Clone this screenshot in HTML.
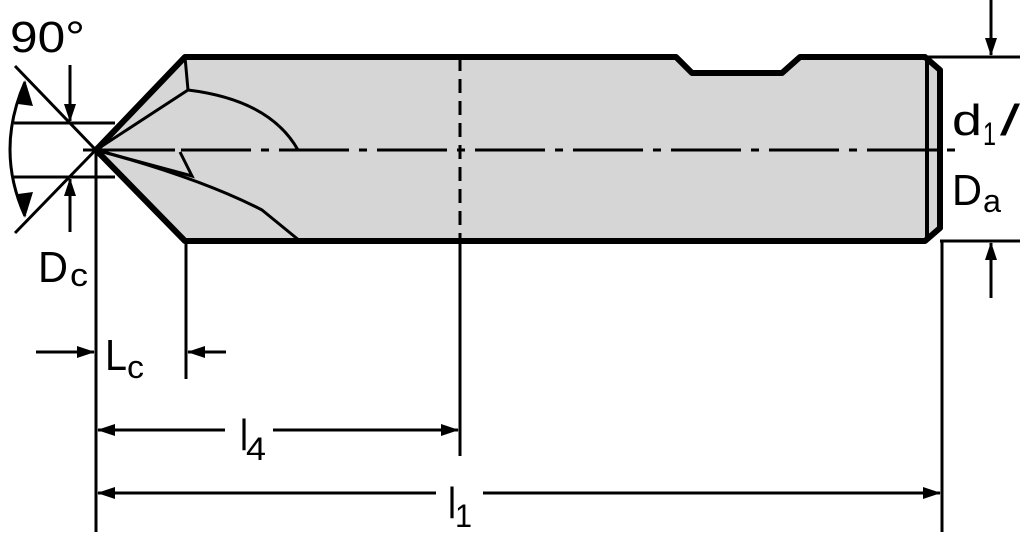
<!DOCTYPE html>
<html><head><style>html,body{margin:0;padding:0;background:#fff}svg{display:block}</style></head>
<body>
<svg width="1024" height="541" viewBox="0 0 1024 541" xmlns="http://www.w3.org/2000/svg" font-family="Liberation Sans, sans-serif" fill="#000">
<defs>
<marker id="a" markerWidth="18" markerHeight="12" refX="17" refY="6" orient="auto" markerUnits="userSpaceOnUse"><path d="M0,0 L18,6 L0,12z"/></marker>
</defs>
<path d="M96,150 L185,57 L676,57 L692,73 L782,73 L800,57 L925,57 L940,70 L940,228 L925,241 L185,241 Z" fill="#d6d6d6" stroke="#000" stroke-width="6" stroke-linejoin="round"/>
<line x1="927" y1="57" x2="927" y2="241" stroke="#000" stroke-width="4"/>
<g stroke="#000" stroke-width="3" fill="none">
<path d="M96,150 L188,90 L185,57"/>
<path d="M188,90 Q270,100 298,150"/>
<path d="M96,150 L175,150"/>
<path d="M96,150 L192,176 L180,152"/>
<path d="M96,150 Q200,178 262,210 L300,241"/>
</g>
<line x1="83" y1="150" x2="955" y2="150" stroke="#000" stroke-width="3" stroke-dasharray="70,10,8,10"/>
<line x1="460" y1="57" x2="460" y2="241" stroke="#000" stroke-width="3" stroke-dasharray="14,8"/>
<g stroke="#000" stroke-width="3">
<line x1="96" y1="150" x2="96" y2="532"/>
<line x1="186" y1="241" x2="186" y2="379"/>
<line x1="460" y1="241" x2="460" y2="456"/>
<line x1="942" y1="241" x2="942" y2="532"/>
<line x1="925" y1="57" x2="1020" y2="57"/>
<line x1="940" y1="241" x2="1020" y2="241"/>
<line x1="14" y1="123" x2="115" y2="123"/>
<line x1="14" y1="177" x2="115" y2="177"/>
<line x1="15" y1="66" x2="118" y2="173"/>
<line x1="15" y1="233" x2="115" y2="130"/>
</g>
<g stroke="#000" stroke-width="3" fill="none">
<line x1="991" y1="0" x2="991" y2="55" marker-end="url(#a)"/>
<line x1="991" y1="298" x2="991" y2="243" marker-end="url(#a)"/>
<line x1="70" y1="65" x2="70" y2="121" marker-end="url(#a)"/>
<line x1="70" y1="232" x2="70" y2="179" marker-end="url(#a)"/>
<line x1="36" y1="352" x2="94" y2="352" marker-end="url(#a)"/>
<line x1="212" y1="352" x2="188" y2="352" marker-end="url(#a)"/>
<line x1="226" y1="352" x2="212" y2="352"/>
<line x1="225" y1="430" x2="98" y2="430" marker-end="url(#a)"/>
<line x1="273" y1="430" x2="458" y2="430" marker-end="url(#a)"/>
<line x1="436" y1="493" x2="98" y2="493" marker-end="url(#a)"/>
<line x1="483" y1="493" x2="940" y2="493" marker-end="url(#a)"/>
<path d="M25,82 Q-5,150 25,216"/>
</g>
<path d="M18,104 L25,80 L33,106 Z"/>
<path d="M18,194 L25,218 L33,192 Z"/>
<g font-size="44">
<text x="10" y="52" textLength="75" lengthAdjust="spacingAndGlyphs">90°</text>
<text x="952" y="135" textLength="30" lengthAdjust="spacingAndGlyphs">d</text>
<text x="1000" y="135" textLength="20" lengthAdjust="spacingAndGlyphs">/</text>
<text x="952" y="205" textLength="30" lengthAdjust="spacingAndGlyphs">D</text>
<text x="38" y="282" textLength="30" lengthAdjust="spacingAndGlyphs">D</text>
<text x="105" y="370" textLength="22" lengthAdjust="spacingAndGlyphs">L</text>
<text x="240" y="450" textLength="8" lengthAdjust="spacingAndGlyphs">l</text>
<text x="448" y="518" textLength="8" lengthAdjust="spacingAndGlyphs">l</text>
</g>
<g font-size="32">
<text x="983" y="145" textLength="13" lengthAdjust="spacingAndGlyphs">1</text>
<text x="983" y="212" textLength="18" lengthAdjust="spacingAndGlyphs">a</text>
<text x="70" y="286" textLength="18" lengthAdjust="spacingAndGlyphs">c</text>
<text x="127" y="378" textLength="17" lengthAdjust="spacingAndGlyphs">c</text>
<text x="246" y="460" textLength="20" lengthAdjust="spacingAndGlyphs">4</text>
<text x="455" y="527" textLength="17" lengthAdjust="spacingAndGlyphs">1</text>
</g>
</svg>
</body></html>
